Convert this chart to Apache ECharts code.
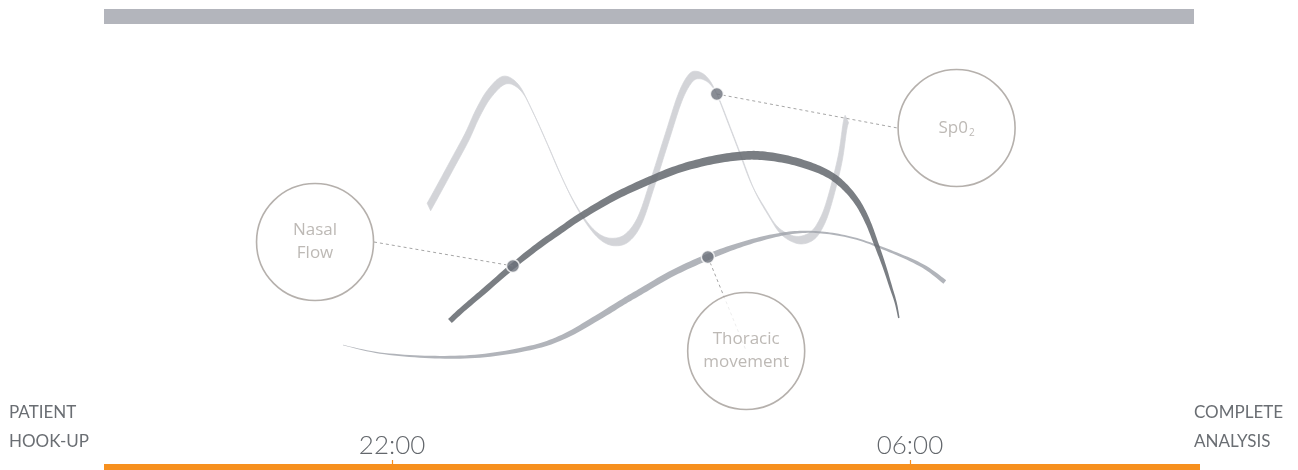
<!DOCTYPE html>
<html><head><meta charset="utf-8">
<script src="https://cdn.jsdelivr.net/npm/echarts@6/dist/echarts.min.js"></script>
<style>html,body{margin:0;padding:0;background:#fff}#c{width:1298px;height:470px}</style>
</head><body><div id="c"></div>
<script>
// x: clock hour (22 = 22:00, 30 = 06:00 next morning); y: relative signal level (0-100)
const spo2 = [[22.569,57.78],[22.739,62.22],[22.940,67.56],[23.156,73.33],[23.326,78.67],[23.511,83.11],[23.743,86.00],[23.975,84.22],[24.175,78.89],[24.392,72.00],[24.592,65.33],[24.793,59.33],[25.009,54.22],[25.210,51.11],[25.411,50.00],[25.627,50.89],[25.828,54.89],[26.029,63.33],[26.245,73.11],[26.446,82.00],[26.600,86.22],[26.724,87.11],[26.878,86.00],[27.017,82.89],[27.218,75.56],[27.372,69.78],[27.573,62.22],[27.789,56.67],[27.990,52.44],[28.253,50.44],[28.484,51.33],[28.639,54.44],[28.762,59.33],[28.917,68.22],[28.994,75.56],[29.025,77.33]];
const nasalFlow = [[22.894,32.44],[23.094,35.11],[23.403,38.89],[23.867,44.67],[24.237,48.89],[24.639,53.00],[24.901,55.56],[25.411,59.89],[25.936,63.44],[26.446,66.33],[26.955,68.22],[27.372,69.11],[27.681,69.22],[28.067,68.44],[28.453,66.89],[28.762,64.89],[28.994,62.22],[29.195,58.67],[29.349,54.44],[29.473,49.78],[29.596,44.89],[29.704,40.00],[29.781,36.44],[29.828,33.11]];
const thoracic = [[21.241,27.11],[21.813,25.33],[22.585,24.44],[23.357,24.67],[24.129,26.44],[24.639,28.89],[25.164,33.11],[25.565,36.67],[25.828,38.89],[26.338,43.11],[26.878,46.67],[27.372,49.33],[27.882,51.33],[28.299,52.22],[28.716,52.00],[29.179,50.67],[29.689,48.00],[30.199,44.67],[30.538,41.11]];
const tickValues = [22, 30];
const tickLabels = ['22:00', '06:00'];
const calloutNames = ['Nasal Flow', 'Sp0₂', 'Thoracic movement'];
const calloutPoints = [[20.81, 50.00], [30.72, 75.33], [27.47, 25.78]];
const markerIndex = { nasal: 3, spo2: 23, thoracic: 10 };

// ---------- styles ----------
const FONT = 'Lato, "Open Sans", "Noto Sans", sans-serif';
const LABEL_FONT = '"Open Sans", Lato, "Noto Sans", sans-serif';
const spo2Style = { mode: 'shift', shift: [3.5, 7.5], color: '#d3d4d8', stroke: '#d3d4d8', strokeWidth: 0.7 };
const nasalStyle = { mode: 'profile', profile: [[0,5.5],[0.14,6],[0.4,7.5],[0.6,8.8],[0.75,7],[0.88,4.5],[1,1.5]], color: 'rgba(104,108,114,0.88)' };
const thoracicStyle = { mode: 'profile', profile: [[0,0.4],[0.14,2.5],[0.3,4.5],[0.42,6],[0.6,6.5],[0.7,4],[0.77,2],[0.86,1.8],[0.93,3],[1,4.5]], color: 'rgba(160,163,171,0.82)' };

function catmull(pts, seg) {
  const out = [];
  const n = pts.length;
  for (let i = 0; i < n - 1; i++) {
    const p0 = pts[Math.max(i - 1, 0)], p1 = pts[i], p2 = pts[i + 1], p3 = pts[Math.min(i + 2, n - 1)];
    for (let s = 0; s < seg; s++) {
      const t = s / seg, t2 = t * t, t3 = t2 * t;
      const f = k => 0.5 * (2 * p1[k] + (-p0[k] + p2[k]) * t + (2 * p0[k] - 5 * p1[k] + 4 * p2[k] - p3[k]) * t2 + (-p0[k] + 3 * p1[k] - 3 * p2[k] + p3[k]) * t3);
      out.push([f(0), f(1)]);
    }
  }
  out.push(pts[n - 1]);
  return out;
}
function profileAt(prof, t) {
  for (let i = 1; i < prof.length; i++) {
    if (t <= prof[i][0]) {
      const a = prof[i - 1], b = prof[i];
      const u = (t - a[0]) / (b[0] - a[0]);
      return a[1] + (b[1] - a[1]) * u;
    }
  }
  return prof[prof.length - 1][1];
}
function buildRibbon(px, st) {
  const n = px.length;
  const L = [0];
  for (let i = 1; i < n; i++) L.push(L[i - 1] + Math.hypot(px[i][0] - px[i - 1][0], px[i][1] - px[i - 1][1]));
  const total = L[n - 1];
  const left = [], right = [];
  for (let i = 0; i < n; i++) {
    const x = px[i][0], y = px[i][1];
    if (st.mode === 'shift') {
      left.push([x - st.shift[0] / 2, y - st.shift[1] / 2]);
      right.push([x + st.shift[0] / 2, y + st.shift[1] / 2]);
    } else {
      const a = px[Math.max(i - 1, 0)], b = px[Math.min(i + 1, n - 1)];
      let tx = b[0] - a[0], ty = b[1] - a[1];
      const len = Math.hypot(tx, ty) || 1; tx /= len; ty /= len;
      const w = profileAt(st.profile, L[i] / total) / 2;
      left.push([x - ty * w, y + tx * w]);
      right.push([x + ty * w, y - tx * w]);
    }
  }
  return left.concat(right.reverse());
}
function ribbonSeries(name, pts, z, st) {
  return {
    type: 'custom', name: name, z: z, silent: true, coordinateSystem: 'cartesian2d',
    data: pts, encode: { x: 0, y: 1 },
    renderItem: function (params, api) {
      if (params.dataIndex !== 0) return null;
      const px = pts.map(p => api.coord(p));
      const poly = buildRibbon(catmull(px, 10), st);
      return { type: 'polygon', shape: { points: poly },
        style: { fill: st.color, stroke: st.stroke || null, lineWidth: st.strokeWidth || 0 } };
    }
  };
}

const markers = [nasalFlow[markerIndex.nasal], spo2[markerIndex.spo2], thoracic[markerIndex.thoracic]];
const leaderSides = ['right', 'left', 'center'];
const CIRCLE_R = 59;

const chart = echarts.init(document.getElementById('c'), null, { renderer: 'canvas' });
chart.setOption({
  animation: false,
  backgroundColor: '#ffffff',
  grid: { left: 104, right: 98, top: 17, bottom: 3 },
  xAxis: {
    type: 'value', min: 17.55, max: 34.48,
    axisLine: { show: true, onZero: false, lineStyle: { color: '#f7901e', width: 6, cap: 'butt' } },
    axisTick: { show: true, inside: true, length: 7, customValues: tickValues, lineStyle: { color: '#f7901e', width: 1.2 } },
    axisLabel: { show: true, inside: true, margin: 8, customValues: tickValues,
      formatter: function (v) { let k = 0; tickValues.forEach((t, i) => { if (Math.abs(t - v) < Math.abs(tickValues[k] - v)) k = i; }); return tickLabels[k]; },
      fontSize: 26, color: '#63676c', fontFamily: FONT, fontWeight: 300 },
    splitLine: { show: false }
  },
  yAxis: { type: 'value', min: 0, max: 100, show: false },
  graphic: [
    { type: 'rect', left: 104, top: 9, shape: { width: 1090, height: 15 }, style: { fill: '#b3b5bc' }, silent: true },
    { type: 'text', left: 9, top: 398, style: { text: 'PATIENT\nHOOK-UP', fontSize: 17, lineHeight: 29, fill: '#6a6e73', fontFamily: FONT } },
    { type: 'text', left: 1194, top: 398, style: { text: 'COMPLETE\nANALYSIS', fontSize: 17, lineHeight: 29, fill: '#6a6e73', fontFamily: FONT } }
  ],
  series: [
    ribbonSeries('SpO2', spo2, 2, spo2Style),
    ribbonSeries('Thoracic movement', thoracic, 3, thoracicStyle),
    ribbonSeries('Nasal Flow', nasalFlow, 4, nasalStyle),
    {
      type: 'custom', name: 'leaders', z: 5, silent: true, coordinateSystem: 'cartesian2d',
      data: markers.map((m, i) => [m[0], m[1], calloutPoints[i][0], calloutPoints[i][1]]),
      encode: { x: [0, 2], y: [1, 3] },
      renderItem: function (params, api) {
        const i = params.dataIndex;
        const p1 = api.coord([api.value(0), api.value(1)]);
        const c = api.coord([api.value(2), api.value(3)]);
        let p2 = c;
        if (leaderSides[i] === 'left') p2 = [c[0] - CIRCLE_R, c[1]];
        if (leaderSides[i] === 'right') p2 = [c[0] + CIRCLE_R, c[1]];
        return { type: 'line', shape: { x1: p1[0], y1: p1[1], x2: p2[0], y2: p2[1] },
          style: { stroke: '#a6a6a6', lineWidth: 1, lineDash: [3, 3] } };
      }
    },
    {
      type: 'scatter', name: 'callouts', z: 6, silent: true,
      data: calloutNames.map((n, i) => ({ name: n, value: calloutPoints[i] })),
      symbol: 'circle', symbolSize: CIRCLE_R * 2 - 1,
      itemStyle: { color: '#ffffff', borderColor: '#a29c97', borderWidth: 1.6 },
      label: {
        show: true, position: 'inside', color: '#aca7a3', fontSize: 17, lineHeight: 23, fontFamily: LABEL_FONT,
        formatter: function (p) {
          const m = p.name.match(/^(.*)₂$/);
          if (m) return '{a|' + m[1] + '}{b|2}';
          return p.name.split(' ').join('\n');
        },
        rich: {
          a: { fontSize: 17, color: '#aca7a3', fontFamily: LABEL_FONT, lineHeight: 22 },
          b: { fontSize: 10, color: '#aca7a3', fontFamily: LABEL_FONT, padding: [10, 0, 0, 1] }
        }
      },
      emphasis: { disabled: true }
    },
    {
      type: 'scatter', name: 'markers', z: 7, silent: true,
      data: markers, symbol: 'circle', symbolSize: 13,
      itemStyle: { color: '#6b707a', borderColor: '#ffffff', borderWidth: 1.5 },
      emphasis: { disabled: true }
    }
  ]
});
</script></body></html>
